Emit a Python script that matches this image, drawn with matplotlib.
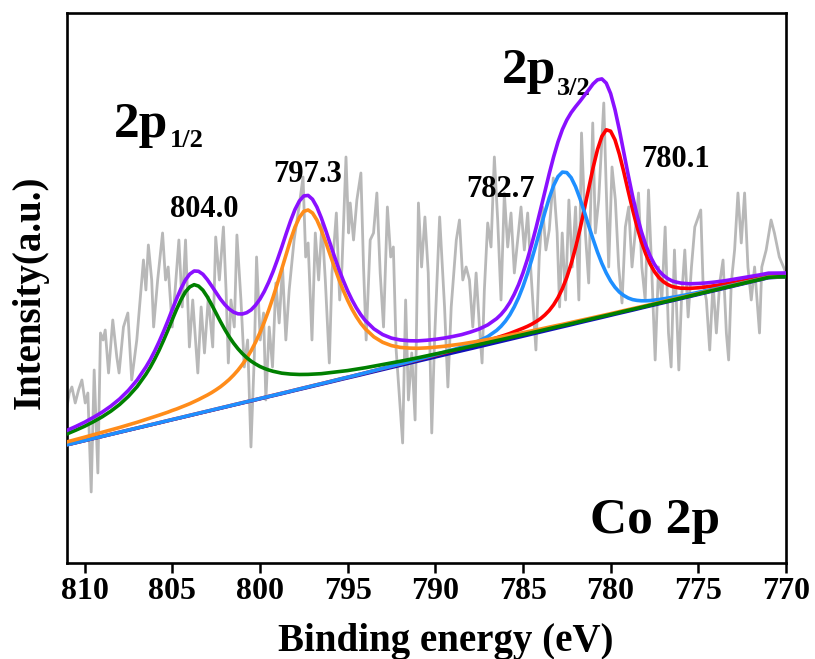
import matplotlib
matplotlib.use("Agg")
import matplotlib.pyplot as plt
import numpy as np

# ---------------- data ----------------
# raw (noisy) spectrum: binding energy (eV) / intensity (a.u.)
raw_e = [811.0, 810.87, 810.72, 810.53, 810.34, 810.15, 809.96, 809.81, 809.62, 809.45,
         809.24, 809.09, 808.94, 808.82, 808.63, 808.39, 808.16, 808.03, 807.78, 807.53,
         807.31, 807.02, 806.64, 806.5, 806.36, 806.17, 806.06, 805.83, 805.55, 805.38,
         805.23, 805.0, 804.82, 804.62, 804.43, 804.24,
         804.02, 803.83, 803.54, 803.35, 803.16, 802.94, 802.69, 802.52, 802.31, 802.08,
         801.93, 801.80, 801.65, 801.46, 801.31, 801.08, 800.89, 800.70, 800.51, 800.32,
         800.19, 799.98, 799.79, 799.66, 799.47, 799.28, 799.09, 798.90, 798.71, 798.52,
         798.33, 798.05, 797.77, 797.54, 797.39, 797.25,
         797.03, 796.84, 796.65, 796.46, 796.27, 796.04, 795.89, 795.64, 795.45, 795.32,
         795.09, 794.94, 794.85, 794.66, 794.47, 794.24, 794.09, 793.94, 793.71, 793.52,
         793.33, 793.14, 792.95, 792.73, 792.54, 792.39, 792.23, 791.86, 791.69, 791.53,
         791.34, 791.15, 790.96, 790.78, 790.59, 790.40,
         790.2, 790.04, 789.75, 789.47, 789.28, 789.09, 788.80, 788.62, 788.43, 788.24,
         788.05, 787.86, 787.67, 787.48, 787.33, 787.20, 787.01, 786.82, 786.63, 786.44,
         786.25, 786.06, 785.87, 785.68, 785.49, 785.30, 785.11, 784.92, 784.73, 784.54,
         784.26, 784.07, 783.88, 783.69, 783.50, 783.27,
         783.05, 782.91, 782.76, 782.57, 782.38, 782.19, 782.00, 781.81, 781.66, 781.44,
         781.25, 781.02, 780.87, 780.68, 780.39, 780.26, 780.11, 779.92, 779.73, 779.54,
         779.35, 779.16, 778.97, 778.78, 778.60, 778.41, 778.22, 778.03, 777.84, 777.65,
         777.46, 777.27, 777.08, 776.89, 776.70, 776.55, 776.36,
         776.11, 775.96, 775.77, 775.58, 775.39, 775.20, 774.86, 774.73, 774.54, 774.35,
         774.16, 773.97, 773.78, 773.59, 773.40, 773.27, 773.12, 772.93, 772.74, 772.55,
         772.36, 772.17, 771.98, 771.79, 771.51, 771.38, 771.13, 770.85, 770.66, 770.38,
         770.0]
raw_i = [156, 170, 176, 160, 173, 183, 160, 170, 71, 193,
         90, 230, 223, 233, 190, 243, 206, 190, 236, 250,
         183, 223, 303, 273, 318, 283, 236, 283, 330, 283,
         296, 236, 276, 323, 256, 323,
         216, 263, 190, 256, 210, 266, 216, 326, 283, 336,
         273, 200, 263, 236, 328, 263, 196, 223, 116, 206,
         306, 223, 250, 163, 236, 196, 280, 240, 296, 223,
         273, 323, 356, 386, 306, 320,
         223, 330, 283, 340, 283, 200, 290, 350, 263, 296,
         406, 330, 360, 323, 363, 390, 296, 223, 323, 330,
         370, 290, 236, 356, 306, 316, 213, 120, 263, 163,
         210, 143, 360, 296, 346, 290,
         130, 223, 346, 256, 176, 256, 323, 343, 283, 296,
         283, 236, 290, 236, 200, 273, 340, 316, 406, 343,
         263, 370, 316, 350, 290, 323, 356, 313, 350, 290,
         213, 306, 356, 313, 333, 385,
         330, 256, 330, 263, 363, 296, 356, 263, 430, 330,
         280, 440, 330, 363, 460, 380, 296, 396, 363, 296,
         260, 336, 356, 296, 330, 370, 296, 263, 373, 290,
         203, 296, 263, 336, 230, 196, 313,
         193, 263, 313, 246, 296, 336, 353, 280, 263, 213,
         280, 230, 280, 303, 230, 203, 280, 313, 370, 320,
         370, 296, 263, 296, 230, 296, 313, 343, 330, 306,
         290]

# fitted curves (sampled; finer spacing around the peaks)
energy = [811.0, 810.5, 810.0, 809.5, 809.0, 808.5, 808.0, 807.5, 807.0, 806.5,
          806.25, 806.0, 805.75, 805.5, 805.25, 805.0, 804.75, 804.5, 804.25, 804.0,
          803.75, 803.5, 803.25, 803.0, 802.75, 802.5, 802.25, 802.0, 801.75, 801.5,
          801.25, 801.0, 800.75, 800.5, 800.25, 800.0, 799.75, 799.5, 799.25, 799.0,
          798.75, 798.5, 798.25, 798.0, 797.75, 797.5, 797.25, 797.0, 796.75, 796.5,
          796.25, 796.0, 795.75, 795.5, 795.25, 795.0, 794.75, 794.5, 794.25, 794.0,
          793.5, 793.0, 792.5, 792.0, 791.5, 791.0, 790.5, 790.0, 789.5, 789.0,
          788.5, 788.0, 787.5, 787.0, 786.5,
          786.25, 786.0, 785.75, 785.5, 785.25, 785.0, 784.75, 784.5, 784.25, 784.0,
          783.75, 783.5, 783.25, 783.0, 782.75, 782.5, 782.25, 782.0, 781.75, 781.5,
          781.25, 781.0, 780.75, 780.5, 780.25, 780.0, 779.75, 779.5, 779.25, 779.0,
          778.75, 778.5, 778.25, 778.0, 777.75, 777.5, 777.25, 777.0, 776.75, 776.5,
          776.25, 776.0,
          775.5, 775.0, 774.5, 774.0, 773.5, 773.0, 772.5, 772.0, 771.5, 771.0,
          770.5, 770.0]
background = [118.0, 120.1, 122.2, 124.3, 126.4, 128.4, 130.5, 132.6, 134.7, 136.8,
              137.8, 138.9, 139.9, 141.0, 142.0, 143.1, 144.1, 145.1, 146.2, 147.2,
              148.3, 149.3, 150.4, 151.4, 152.4, 153.5, 154.5, 155.6, 156.6, 157.7,
              158.7, 159.8, 160.8, 161.8, 162.9, 163.9, 165.0, 166.0, 167.1, 168.1,
              169.1, 170.2, 171.2, 172.3, 173.3, 174.4, 175.4, 176.5, 177.5, 178.5,
              179.6, 180.6, 181.7, 182.7, 183.8, 184.8, 185.8, 186.9, 187.9, 189.0,
              191.1, 193.2, 195.2, 197.3, 199.4, 201.5, 203.6, 205.7, 207.8, 209.9,
              211.9, 214.0, 216.1, 218.2, 220.3,
              221.3, 222.4, 223.4, 224.5, 225.5, 226.6, 227.6, 228.6, 229.7, 230.7,
              231.8, 232.8, 233.9, 234.9, 235.9, 237.0, 238.0, 239.1, 240.1, 241.2,
              242.2, 243.3, 244.3, 245.3, 246.4, 247.4, 248.5, 249.5, 250.6, 251.6,
              252.6, 253.7, 254.7, 255.8, 256.8, 257.9, 258.9, 260.0, 261.0, 262.0,
              263.1, 264.1,
              266.2, 268.3, 270.4, 272.5, 274.6, 276.7, 278.7, 280.8, 282.9, 285.0,
              285.5, 285.8]
# peak heights above the background
peak_804 = [11.1, 12.7, 14.5, 16.9, 19.7, 23.4, 28.0, 34.0, 41.7, 51.9,
            58.0, 65.0, 72.8, 81.4, 90.6, 100.2, 109.6, 118.1, 124.8, 128.9,
            130.0, 127.6, 122.4, 114.8, 105.9, 96.4, 86.9, 77.9, 69.6, 62.1,
            55.5, 49.6, 44.5, 40.0, 36.1, 32.6, 29.6, 27.0, 24.6, 22.6,
            20.7, 19.1, 17.7, 16.4, 15.2, 14.1, 13.2, 12.3, 11.5, 10.8,
            10.2, 9.6, 9.0, 8.5, 8.1, 7.6, 7.3, 6.9, 6.6, 6.2,
            5.7, 5.2, 4.7, 4.4, 4.0, 3.7, 3.5, 3.2, 3.0, 2.8,
            2.6, 2.5, 2.3, 2.2, 2.1,
            2.01, 1.96, 1.90, 1.85, 1.80, 1.76, 1.71, 1.67, 1.63, 1.59,
            1.55, 1.51, 1.47, 1.44, 1.41, 1.37, 1.34, 1.31, 1.28, 1.25,
            1.22, 1.20, 1.17, 1.15, 1.12, 1.10, 1.08, 1.06, 1.04, 1.02,
            1.00, 0.98, 0.96, 0.94, 0.92, 0.90, 0.89, 0.87, 0.85, 0.84,
            0.82, 0.81,
            0.8, 0.8, 0.8, 0.7, 0.7, 0.7, 0.7, 0.7, 0.6, 0.6,
            0.6, 0.6]
peak_797 = [3.1, 3.3, 3.6, 3.9, 4.2, 4.6, 5.0, 5.5, 6.0, 6.7,
            7.0, 7.4, 7.9, 8.3, 8.8, 9.4, 9.9, 10.6, 11.3, 12.1,
            13.0, 14.1, 15.2, 16.5, 18.0, 19.7, 21.7, 24.1, 26.9, 30.2,
            34.1, 38.7, 44.1, 50.4, 57.8, 66.3, 75.9, 86.7, 98.6, 111.5,
            125.1, 138.9, 152.0, 163.5, 172.2, 177.2, 177.6, 173.5, 165.5, 154.4,
            141.5, 127.9, 114.2, 101.2, 89.0, 78.0, 68.1, 59.4, 51.8, 45.3,
            35.0, 27.5, 22.2, 18.3, 15.5, 13.2, 11.5, 10.1, 8.9, 7.9,
            7.1, 6.4, 5.8, 5.3, 4.8,
            4.61, 4.42, 4.24, 4.07, 3.90, 3.75, 3.61, 3.48, 3.35, 3.23,
            3.11, 3.00, 2.90, 2.80, 2.71, 2.62, 2.53, 2.45, 2.38, 2.30,
            2.23, 2.16, 2.10, 2.04, 1.98, 1.92, 1.87, 1.82, 1.77, 1.72,
            1.68, 1.63, 1.59, 1.55, 1.52, 1.48, 1.44, 1.40, 1.37, 1.34,
            1.31, 1.28,
            1.2, 1.2, 1.1, 1.1, 1.0, 1.0, 1.0, 0.9, 0.9, 0.9,
            0.8, 0.8]
peak_782 = [0.18, 0.18, 0.19, 0.20, 0.21, 0.21, 0.22, 0.23, 0.24, 0.25,
            0.26, 0.26, 0.27, 0.27, 0.28, 0.28, 0.29, 0.30, 0.30, 0.31,
            0.32, 0.33, 0.33, 0.34, 0.35, 0.36, 0.37, 0.38, 0.39, 0.40,
            0.41, 0.42, 0.43, 0.45, 0.46, 0.47, 0.48, 0.50, 0.51, 0.53,
            0.55, 0.56, 0.58, 0.60, 0.62, 0.64, 0.66, 0.69, 0.71, 0.74,
            0.76, 0.79, 0.82, 0.85, 0.89, 0.92, 0.96, 1.00, 1.04, 1.09,
            1.19, 1.30, 1.44, 1.59, 1.77, 1.98, 2.23, 2.53, 2.89, 3.33,
            3.88, 4.76, 6.05, 8.26, 12.3,
            15.4, 19.4, 24.7, 31.5, 39.8, 49.8, 61.5, 74.7, 89.0, 104.0,
            118.7, 132.3, 143.6, 151.5, 155.0, 153.4, 147.3, 137.2, 124.4, 110.0,
            95.0, 80.4, 66.6, 54.3, 43.6, 34.6, 27.2, 21.4, 16.9, 13.4,
            10.8, 8.9, 7.5, 6.4, 5.6, 5.0, 4.5, 4.1, 3.7, 3.4,
            3.2, 3.0,
            2.6, 2.3, 2.0, 1.8, 1.6, 1.5, 1.3, 1.2, 1.1, 1.0,
            0.9, 0.9]
peak_780 = [0.21, 0.22, 0.23, 0.24, 0.24, 0.25, 0.26, 0.27, 0.28, 0.29,
            0.30, 0.30, 0.31, 0.32, 0.32, 0.33, 0.33, 0.34, 0.35, 0.36,
            0.36, 0.37, 0.38, 0.39, 0.40, 0.41, 0.41, 0.43, 0.43, 0.45,
            0.45, 0.47, 0.48, 0.49, 0.50, 0.52, 0.53, 0.54, 0.55, 0.57,
            0.58, 0.60, 0.62, 0.64, 0.65, 0.68, 0.69, 0.72, 0.73, 0.76,
            0.78, 0.81, 0.83, 0.86, 0.88, 0.92, 0.95, 0.99, 1.01, 1.06,
            1.14, 1.23, 1.33, 1.44, 1.57, 1.71, 1.88, 2.07, 2.30, 2.56,
            2.87, 3.24, 3.68, 4.22, 4.87,
            5.2, 5.61, 6.1, 6.7, 7.3, 8.1, 9.0, 10.2, 11.7, 13.6,
            16.2, 19.7, 24.3, 30.5, 38.5, 48.6, 61.2, 76.2, 93.5, 112.6,
            132.5, 152.0, 169.0, 181.3, 186.8, 184.4, 174.6, 159.2, 140.5, 120.5,
            101.0, 82.9, 66.9, 53.4, 42.3, 33.4, 26.6, 21.4, 17.5, 14.5,
            12.4, 10.7,
            8.4, 6.9, 5.8, 4.95, 4.28, 3.73, 3.28, 2.90, 2.59, 2.32,
            2.10, 1.90]

peak_labels = ["804.0", "797.3", "782.7", "780.1"]
peak_label_pos = [(803.2, 346), (797.3, 381), (786.3, 366), (776.3, 396)]
tick_values = [810, 805, 800, 795, 790, 785, 780, 775, 770]

# ---------------- drawing ----------------
plt.rcParams["font.family"] = ["Liberation Serif", "DejaVu Serif"]
plt.rcParams["font.weight"] = "bold"

E = np.array(energy)
bg = np.array(background)
g = np.array(peak_804)
o = np.array(peak_797)
b = np.array(peak_782)
r = np.array(peak_780)
envelope = bg + g + o + b + r

fig = plt.figure(figsize=(8.15, 6.59), dpi=100)
ax = fig.add_axes([0.0822, 0.1457, 0.9644 - 0.0822, 0.9803 - 0.1457])

ax.plot(raw_e, raw_i, color="#b8b8b8", lw=2.0, zorder=1, solid_joinstyle="round")
lw = 2.6
ax.plot(E, bg, color="#1010b8", lw=2.2, zorder=2)
ax.plot(E, bg + r, color="#ff0000", lw=lw, zorder=3)
ax.plot(E, bg + b, color="#1e8fff", lw=lw, zorder=4)
ax.plot(E, bg + o, color="#ff8c1a", lw=lw, zorder=5)
ax.plot(E, bg + g, color="#008000", lw=lw, zorder=6)
ax.plot(E, envelope, color="#8a10ff", lw=lw, zorder=7)

ax.set_xlim(811, 770)
ax.set_ylim(0, 550)
ax.set_yticks([])
ax.set_xticks(tick_values)
ax.set_xticklabels([str(t) for t in tick_values])
ax.tick_params(axis="x", direction="out", length=7, width=1.8, pad=3,
               labelsize=23)
for s in ax.spines.values():
    s.set_linewidth(1.9)

for txt, (x, y) in zip(peak_labels, peak_label_pos):
    ax.text(x, y, txt, ha="center", va="baseline", fontsize=22, fontweight="bold", zorder=8)

ax.text(808.3, 426, "2p", ha="left", va="baseline", fontsize=37, fontweight="bold")
ax.text(805.15, 416, "1/2", ha="left", va="baseline", fontsize=19, fontweight="bold")
ax.text(786.2, 480, "2p", ha="left", va="baseline", fontsize=37, fontweight="bold")
ax.text(783.05, 468, "3/2", ha="left", va="baseline", fontsize=19, fontweight="bold")
ax.text(781.2, 30, "Co 2p", ha="left", va="baseline", fontsize=37, fontweight="bold")

fig.text(0.547, 0.012, "Binding energy (eV)", ha="center", va="baseline",
         fontsize=28, fontweight="bold")
fig.text(0.037, 0.557, "Intensity(a.u.)", ha="center", va="center", rotation=90,
         fontsize=28, fontweight="bold")

fig.savefig("out.png", dpi=100)
